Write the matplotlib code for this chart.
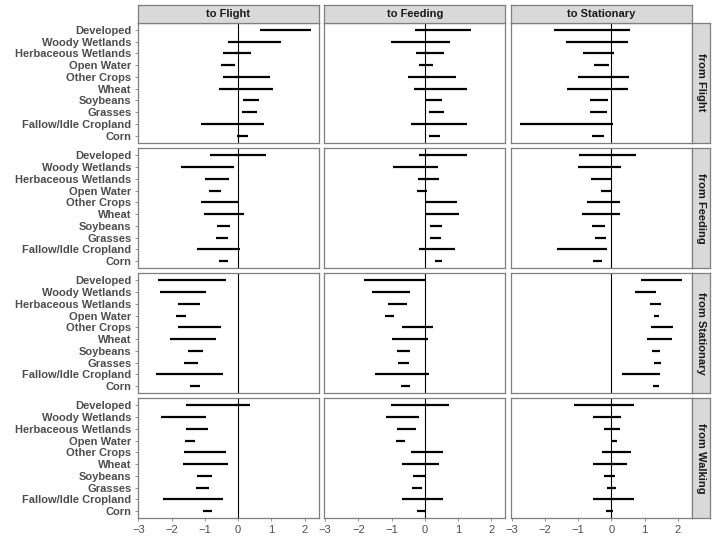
import matplotlib
matplotlib.use("Agg")
import matplotlib.pyplot as plt

plt.rcParams['font.family'] = ['Liberation Sans', 'DejaVu Sans']

# categories, top to bottom as in the chart
categories = ["Developed", "Woody Wetlands", "Herbaceous Wetlands", "Open Water",
              "Other Crops", "Wheat", "Soybeans", "Grasses",
              "Fallow/Idle Cropland", "Corn"]
to_states = ["to Flight", "to Feeding", "to Stationary"]
from_states = ["from Flight", "from Feeding", "from Stationary", "from Walking"]

# (low, high) intervals, same order as categories
flight_to_flight = [(0.65, 2.19), (-0.29, 1.28), (-0.47, 0.38), (-0.52, -0.08), (-0.46, 0.95),
                    (-0.57, 1.04), (0.15, 0.64), (0.13, 0.58), (-1.13, 0.79), (-0.02, 0.31)]
flight_to_feeding = [(-0.31, 1.40), (-1.03, 0.75), (-0.27, 0.58), (-0.19, 0.24), (-0.52, 0.95),
                     (-0.33, 1.26), (0.04, 0.52), (0.13, 0.58), (-0.42, 1.26), (0.14, 0.46)]
flight_to_stationary = [(-1.73, 0.56), (-1.37, 0.51), (-0.86, 0.07), (-0.52, -0.08), (-1.02, 0.53),
                        (-1.34, 0.50), (-0.66, -0.11), (-0.65, -0.13), (-2.76, 0.06), (-0.59, -0.22)]

feeding_to_flight = [(-0.85, 0.83), (-1.72, -0.12), (-1.00, -0.27), (-0.89, -0.53), (-1.13, 0.00),
                     (-1.04, 0.18), (-0.65, -0.23), (-0.68, -0.30), (-1.24, 0.06), (-0.58, -0.32)]
feeding_to_feeding = [(-0.19, 1.28), (-0.97, 0.39), (-0.21, 0.43), (-0.25, 0.08), (0.05, 0.97),
                      (0.01, 1.03), (0.17, 0.52), (0.17, 0.48), (-0.18, 0.90), (0.31, 0.53)]
feeding_to_stationary = [(-0.97, 0.75), (-1.01, 0.28), (-0.62, 0.00), (-0.32, 0.00), (-0.73, 0.25),
                         (-0.89, 0.26), (-0.58, -0.20), (-0.49, -0.16), (-1.65, -0.14), (-0.54, -0.27)]

stationary_to_flight = [(-2.42, -0.36), (-2.34, -0.96), (-1.81, -1.14), (-1.88, -1.56), (-1.81, -0.52),
                        (-2.05, -0.68), (-1.52, -1.06), (-1.64, -1.22), (-2.48, -0.46), (-1.46, -1.14)]
stationary_to_feeding = [(-1.84, 0.05), (-1.58, -0.46), (-1.10, -0.54), (-1.19, -0.93), (-0.69, 0.24),
                         (-1.00, 0.11), (-0.84, -0.46), (-0.81, -0.49), (-1.50, 0.12), (-0.71, -0.45)]
stationary_to_stationary = [(0.88, 2.11), (0.70, 1.33), (1.16, 1.50), (1.28, 1.43), (1.19, 1.86),
                            (1.08, 1.82), (1.21, 1.46), (1.28, 1.48), (0.33, 1.45), (1.25, 1.43)]

walking_to_flight = [(-1.56, 0.37), (-2.31, -0.96), (-1.57, -0.91), (-1.61, -1.30), (-1.64, -0.37),
                     (-1.65, -0.29), (-1.24, -0.80), (-1.27, -0.89), (-2.25, -0.47), (-1.07, -0.79)]
walking_to_feeding = [(-1.03, 0.73), (-1.18, -0.17), (-0.83, -0.27), (-0.86, -0.60), (-0.42, 0.55),
                      (-0.68, 0.43), (-0.35, 0.00), (-0.40, -0.09), (-0.69, 0.56), (-0.24, 0.00)]
walking_to_stationary = [(-1.13, 0.67), (-0.56, 0.28), (-0.23, 0.25), (-0.02, 0.18), (-0.29, 0.59),
                         (-0.56, 0.48), (-0.21, 0.10), (-0.12, 0.15), (-0.56, 0.68), (-0.16, 0.06)]

grid = [
    [flight_to_flight, flight_to_feeding, flight_to_stationary],
    [feeding_to_flight, feeding_to_feeding, feeding_to_stationary],
    [stationary_to_flight, stationary_to_feeding, stationary_to_stationary],
    [walking_to_flight, walking_to_feeding, walking_to_stationary],
]

W, H = 715, 553
fig = plt.figure(figsize=(W / 100, H / 100), dpi=100)


def box(l, t, w, h):
    # pixel box (from top-left) -> figure fraction
    return [l / W, 1 - (t + h) / H, w / W, h / H]


col_left = [137.5, 324.2, 510.8]
row_top = [22.7, 148.3, 273.3, 398.3]
pw, ph = 181, 120
border = '#7f7f7f'
txt = '#4d4d4d'

ypos = list(range(len(categories), 0, -1))

for r, row in enumerate(grid):
    for c, data in enumerate(row):
        ax = fig.add_axes(box(col_left[c], row_top[r], pw, ph))
        lo = [d[0] for d in data]
        hi = [d[1] for d in data]
        ax.axvline(0, color='black', lw=0.8, zorder=1)
        ax.hlines(ypos, lo, hi, color='black', lw=1.6, zorder=2)
        ax.set_xlim(-3.03, 2.42)
        ax.set_ylim(0.4, len(categories) + 0.6)
        ax.set_xticks([-3, -2, -1, 0, 1, 2])
        ax.set_xticklabels(['\u22123', '\u22122', '\u22121', '0', '1', '2'])
        ax.set_yticks(ypos)
        ax.set_yticklabels(categories)
        for s in ax.spines.values():
            s.set_color(border)
            s.set_linewidth(0.9)
        ax.tick_params(colors=border, length=2.5, width=0.6, labelcolor=txt)
        ax.tick_params(axis='x', labelsize=8, pad=2)
        ax.tick_params(axis='y', labelsize=8, pad=2)
        for lab in ax.get_yticklabels():
            lab.set_fontweight('bold')
        if c > 0:
            ax.tick_params(axis='y', left=False, labelleft=False)
        if r < len(grid) - 1:
            ax.tick_params(axis='x', bottom=False, labelbottom=False)

# column strips
for c, name in enumerate(to_states):
    sax = fig.add_axes(box(col_left[c], 4.7, pw, 18))
    sax.set_facecolor('#d9d9d9')
    sax.set_xticks([])
    sax.set_yticks([])
    for s in sax.spines.values():
        s.set_color(border)
        s.set_linewidth(0.9)
    sax.text(0.5, 0.5, name, ha='center', va='center', fontsize=8,
             fontweight='bold', color='#1a1a1a', transform=sax.transAxes)

# row strips
for r, name in enumerate(from_states):
    sax = fig.add_axes(box(692, row_top[r], 17.5, ph))
    sax.set_facecolor('#d9d9d9')
    sax.set_xticks([])
    sax.set_yticks([])
    for s in sax.spines.values():
        s.set_color(border)
        s.set_linewidth(0.9)
    sax.text(0.5, 0.5, name, ha='center', va='center', fontsize=8, rotation=270,
             fontweight='bold', color='#1a1a1a', transform=sax.transAxes)

fig.savefig('out.png', dpi=100)
